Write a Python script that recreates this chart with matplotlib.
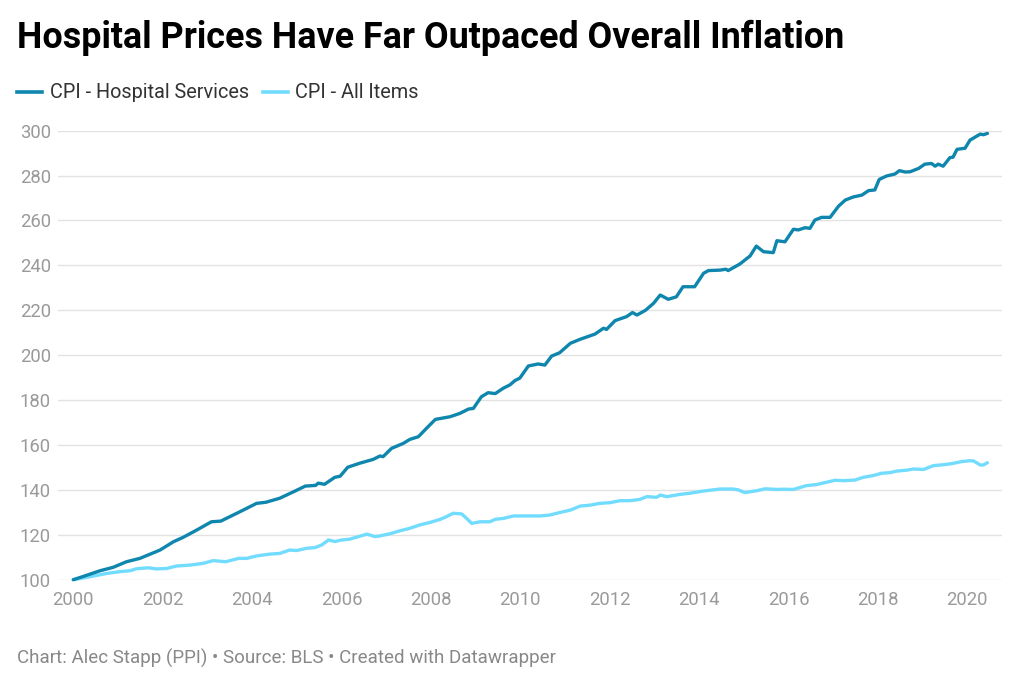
import matplotlib.pyplot as plt

plt.rcParams['font.family'] = ['Roboto', 'DejaVu Sans']

# Values (index, 2000 = 100)
hospYears = [2000.00, 2000.23, 2000.60, 2000.89, 2001.19, 2001.49, 2001.94, 2002.24,
             2002.46, 2002.76, 2003.09, 2003.30, 2003.73, 2004.10, 2004.31, 2004.62,
             2004.93, 2005.19, 2005.42, 2005.48, 2005.62, 2005.85, 2005.97, 2006.14,
             2006.41, 2006.71, 2006.86, 2006.93, 2007.12, 2007.38, 2007.53, 2007.72,
             2007.90, 2008.10, 2008.43, 2008.65, 2008.84, 2008.95, 2009.13, 2009.28,
             2009.44, 2009.62, 2009.77, 2009.88, 2009.99, 2010.18, 2010.40, 2010.55,
             2010.70, 2010.88, 2011.12, 2011.34, 2011.67, 2011.86, 2011.93, 2012.12,
             2012.38, 2012.51, 2012.61, 2012.80, 2012.98, 2013.13, 2013.31, 2013.49,
             2013.64, 2013.90, 2014.10, 2014.21, 2014.47, 2014.60, 2014.65, 2014.91,
             2015.14, 2015.28, 2015.44, 2015.66, 2015.74, 2015.92, 2016.11, 2016.22,
             2016.37, 2016.48, 2016.59, 2016.74, 2016.93, 2017.12, 2017.27, 2017.45,
             2017.64, 2017.79, 2017.93, 2018.03, 2018.19, 2018.38, 2018.48, 2018.61,
             2018.72, 2018.91, 2019.05, 2019.20, 2019.28, 2019.35, 2019.46, 2019.61,
             2019.68, 2019.77, 2019.95, 2020.06, 2020.29, 2020.36, 2020.45]
hospValues = [100.0, 101.5, 104.0, 105.5, 108.0, 109.5, 113.2, 116.9,
              118.9, 122.1, 125.8, 126.1, 130.3, 134.0, 134.5, 136.3,
              139.2, 141.7, 142.0, 143.0, 142.5, 145.6, 146.1, 150.1,
              151.9, 153.6, 155.1, 154.8, 158.5, 160.7, 162.5, 163.7,
              167.4, 171.4, 172.6, 174.1, 176.0, 176.3, 181.5, 183.3,
              182.9, 185.3, 186.8, 188.7, 189.8, 195.2, 196.1, 195.6,
              199.6, 201.1, 205.3, 207.1, 209.4, 212.0, 211.5, 215.4,
              217.2, 219.0, 217.9, 220.0, 223.1, 226.8, 224.9, 226.0,
              230.5, 230.5, 236.5, 237.7, 237.9, 238.3, 237.7, 240.6,
              244.2, 248.6, 246.1, 245.7, 251.0, 250.5, 256.1, 255.8,
              256.8, 256.5, 260.2, 261.4, 261.4, 266.4, 269.1, 270.5,
              271.3, 273.3, 273.6, 278.3, 279.8, 280.7, 282.2, 281.6,
              281.7, 283.2, 285.1, 285.4, 284.2, 285.1, 284.2, 288.0,
              288.2, 291.7, 292.2, 295.8, 298.5, 298.2, 298.8]

cpiYears = [2000.00, 2000.37, 2000.75, 2001.05, 2001.27, 2001.42, 2001.68, 2001.86,
            2002.09, 2002.31, 2002.61, 2002.91, 2003.13, 2003.41, 2003.70, 2003.88,
            2004.10, 2004.40, 2004.62, 2004.84, 2005.00, 2005.22, 2005.41, 2005.56,
            2005.71, 2005.85, 2006.00, 2006.17, 2006.33, 2006.57, 2006.75, 2006.86,
            2007.09, 2007.31, 2007.53, 2007.75, 2007.98, 2008.21, 2008.35, 2008.50,
            2008.69, 2008.80, 2008.91, 2009.10, 2009.32, 2009.44, 2009.62, 2009.85,
            2010.14, 2010.44, 2010.66, 2010.88, 2011.12, 2011.34, 2011.56, 2011.78,
            2012.00, 2012.23, 2012.46, 2012.68, 2012.83, 2013.05, 2013.13, 2013.28,
            2013.57, 2013.79, 2014.10, 2014.47, 2014.76, 2014.88, 2015.02, 2015.28,
            2015.48, 2015.74, 2015.89, 2016.11, 2016.40, 2016.63, 2016.85, 2017.04,
            2017.23, 2017.49, 2017.67, 2017.90, 2018.08, 2018.27, 2018.43, 2018.65,
            2018.79, 2019.02, 2019.24, 2019.46, 2019.65, 2019.87, 2020.06, 2020.14,
            2020.29, 2020.36, 2020.45]
cpiValues = [100.0, 101.3, 102.8, 103.6, 104.0, 104.9, 105.3, 104.8,
             105.0, 106.1, 106.5, 107.3, 108.5, 108.0, 109.5, 109.5,
             110.6, 111.4, 111.7, 113.2, 113.0, 114.0, 114.3, 115.5,
             117.7, 117.0, 117.7, 118.0, 118.9, 120.3, 119.2, 119.5,
             120.5, 121.8, 122.9, 124.4, 125.5, 126.9, 128.1, 129.6,
             129.3, 127.3, 125.1, 125.8, 125.8, 126.9, 127.3, 128.4,
             128.4, 128.4, 128.8, 129.9, 131.0, 132.8, 133.2, 134.0,
             134.3, 135.2, 135.2, 135.8, 137.0, 136.7, 137.7, 137.0,
             138.0, 138.5, 139.5, 140.4, 140.4, 140.0, 138.8, 139.6,
             140.5, 140.2, 140.3, 140.2, 141.9, 142.4, 143.4, 144.3,
             144.1, 144.4, 145.6, 146.4, 147.4, 147.7, 148.4, 148.8,
             149.3, 149.1, 150.8, 151.2, 151.7, 152.6, 153.0, 152.9,
             151.1, 151.1, 152.1]

xTicks = list(range(2000, 2021, 2))
yTicks = list(range(100, 301, 20))

hospColor = '#0f86ad'
cpiColor = '#72dcff'
tickColor = '#9a9a9a'

fig = plt.figure(figsize=(10.24, 6.94), dpi=100)
ax = fig.add_axes([58 / 1024, (694 - 579.7) / 694, (1002 - 58) / 1024, (579.7 - 130.7) / 694])

ax.plot(cpiYears, cpiValues, color=cpiColor, lw=2.4, solid_capstyle='round',
        solid_joinstyle='round', clip_on=False, zorder=3)
ax.plot(hospYears, hospValues, color=hospColor, lw=2.4, solid_capstyle='round',
        solid_joinstyle='round', clip_on=False, zorder=4)

ax.set_xlim(1999.658, 2020.776)
ax.set_ylim(100, 300)
ax.set_xticks(xTicks)
ax.set_yticks(yTicks)
ax.set_xticklabels([str(x) for x in xTicks], fontsize=13.3, color=tickColor)
ax.set_yticklabels([str(y) for y in yTicks], fontsize=13.3, color=tickColor)
ax.tick_params(axis='both', length=0)
ax.tick_params(axis='y', pad=5)
ax.tick_params(axis='x', pad=8)

# light horizontal grid only
ax.yaxis.grid(True, color='#e2e2e2', linewidth=1)
ax.set_axisbelow(True)
for s in ax.spines.values():
    s.set_visible(False)

# title, legend and footer
fig.text(17 / 1024, 1 - 38 / 694, 'Hospital Prices Have Far Outpaced Overall Inflation',
         fontsize=25.8, fontweight='bold', color='#000000', va='center', ha='left')

legendY = 1 - 92 / 694
fig.add_artist(plt.Line2D([17 / 1024, 42 / 1024], [legendY, legendY], color=hospColor,
                          lw=2.6, transform=fig.transFigure))
fig.text(50 / 1024, legendY, 'CPI - Hospital Services', fontsize=14.3, color='#333333',
         va='center', ha='left')
fig.add_artist(plt.Line2D([263 / 1024, 288 / 1024], [legendY, legendY], color=cpiColor,
                          lw=2.6, transform=fig.transFigure))
fig.text(295 / 1024, legendY, 'CPI - All Items', fontsize=14.3, color='#333333',
         va='center', ha='left')

fig.text(17 / 1024, 1 - 658 / 694,
         'Chart: Alec Stapp (PPI) \u2022 Source: BLS \u2022 Created with Datawrapper',
         fontsize=13.5, color='#888888', va='center', ha='left')

fig.savefig('out.png', dpi=100, facecolor='white')
